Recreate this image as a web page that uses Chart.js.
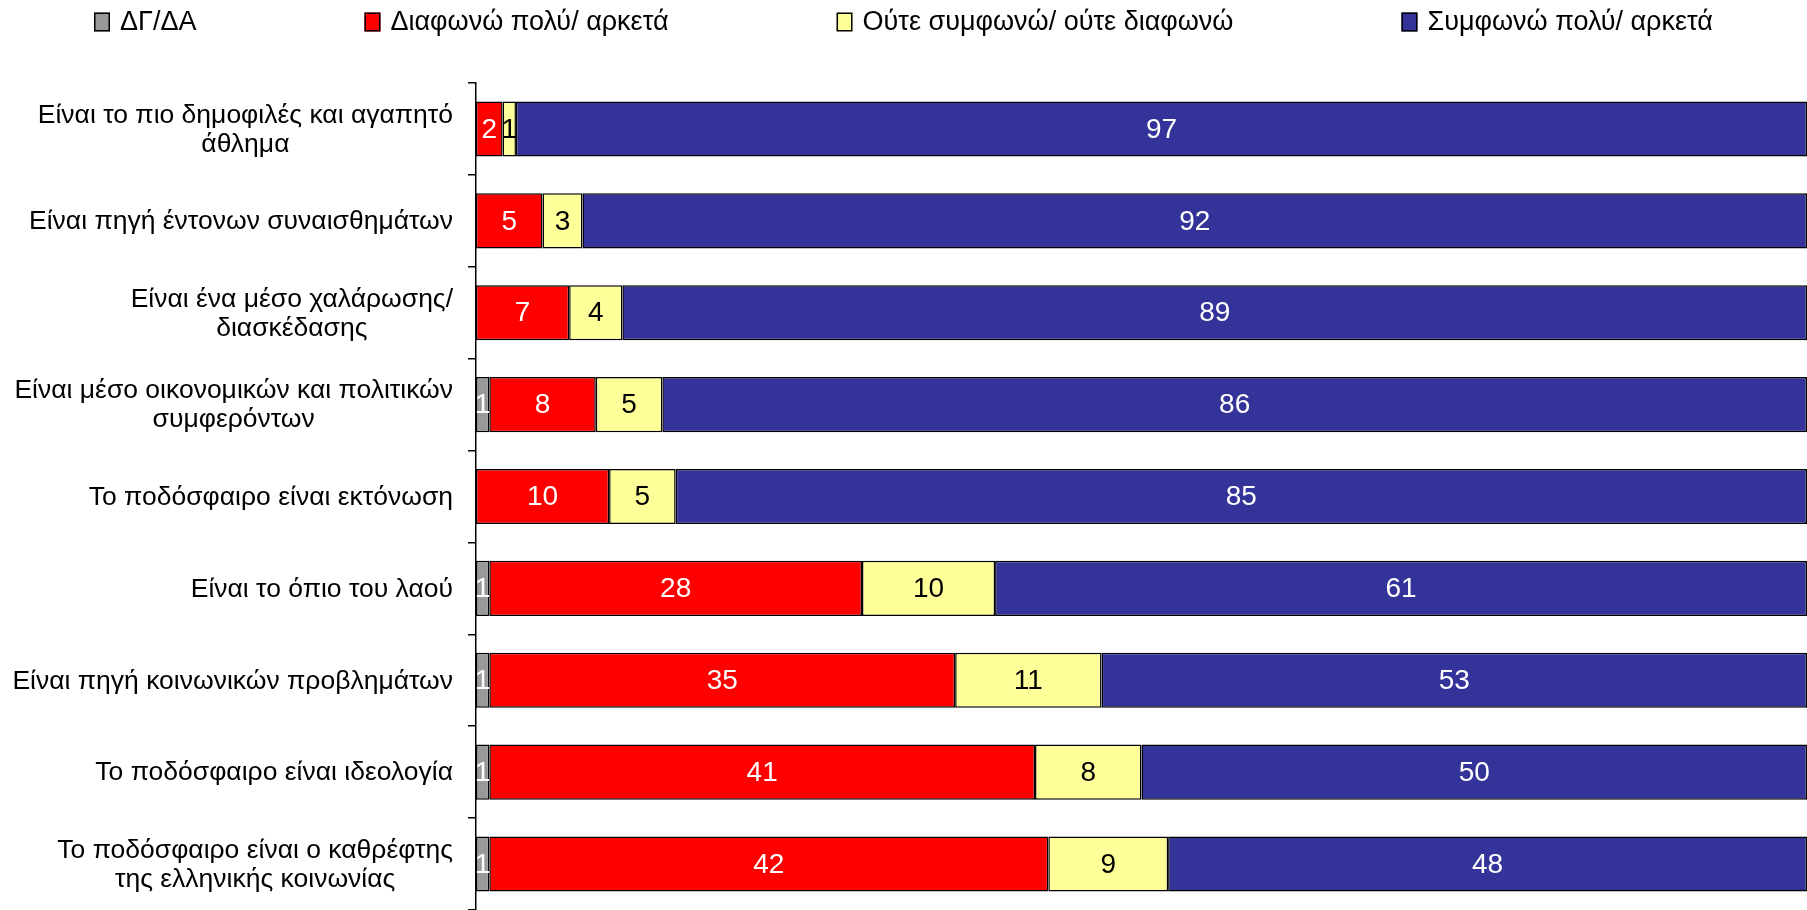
<!DOCTYPE html>
<html>
<head>
<meta charset="utf-8">
<script src="https://cdn.jsdelivr.net/npm/chart.js@4/dist/chart.umd.min.js"></script>
<style>
html, body { margin: 0; padding: 0; background: #fff; }
</style>
</head>
<body>
<canvas id="chart" width="1807" height="910"></canvas>
<script>
// categories (top to bottom), multi-line where the original wraps
const categories = [
    ['Είναι το πιο δημοφιλές και αγαπητό', 'άθλημα'],
    ['Είναι πηγή έντονων συναισθημάτων'],
    ['Είναι ένα μέσο χαλάρωσης/', 'διασκέδασης'],
    ['Είναι μέσο οικονομικών και πολιτικών', 'συμφερόντων'],
    ['Το ποδόσφαιρο είναι εκτόνωση'],
    ['Είναι το όπιο του λαού'],
    ['Είναι πηγή κοινωνικών προβλημάτων'],
    ['Το ποδόσφαιρο είναι ιδεολογία'],
    ['Το ποδόσφαιρο είναι ο καθρέφτης', 'της ελληνικής κοινωνίας']
];

const seriesNames = ['ΔΓ/ΔΑ', 'Διαφωνώ πολύ/ αρκετά', 'Ούτε συμφωνώ/ ούτε διαφωνώ', 'Συμφωνώ πολύ/ αρκετά'];
const dkna     = [0, 0, 0, 1, 0, 1, 1, 1, 1];
const disagree = [2, 5, 7, 8, 10, 28, 35, 41, 42];
const neither  = [1, 3, 4, 5, 5, 10, 11, 8, 9];
const agree    = [97, 92, 89, 86, 85, 61, 53, 50, 48];

const colors = ['#999999', '#ff0000', '#ffff99', '#333399'];
const labelColors = ['#ffffff', '#ffffff', '#000000', '#ffffff'];
const FONT = "'Liberation Sans', Arial, sans-serif";

const seriesValues = [dkna, disagree, neither, agree];

// category labels: block right aligned, lines centred (Excel style)
const categoryLabels = {
    id: 'categoryLabels',
    afterDraw(chart) {
        const ctx = chart.ctx;
        const y = chart.scales.y;
        const rightEdge = 453;
        const lineH = 29;
        ctx.save();
        ctx.font = '26.5px ' + FONT;
        ctx.fillStyle = '#000';
        ctx.textBaseline = 'middle';
        ctx.textAlign = 'center';
        categories.forEach((lines, i) => {
            const cy = y.getPixelForTick(i);
            const w = Math.max(...lines.map(l => ctx.measureText(l).width));
            const cx = rightEdge - w / 2;
            const y0 = cy - (lines.length - 1) * lineH / 2;
            lines.forEach((l, j) => ctx.fillText(l, cx, y0 + j * lineH + 1));
        });
        ctx.restore();
    }
};

// value labels in the middle of each segment
const valueLabels = {
    id: 'valueLabels',
    afterDatasetsDraw(chart) {
        const ctx = chart.ctx;
        ctx.save();
        ctx.font = '28px ' + FONT;
        ctx.textAlign = 'center';
        ctx.textBaseline = 'middle';
        chart.data.datasets.forEach((ds, di) => {
            const meta = chart.getDatasetMeta(di);
            meta.data.forEach((bar, i) => {
                const v = ds.data[i];
                if (!v) return;
                const props = bar.getProps(['x', 'y', 'base'], true);
                ctx.fillStyle = labelColors[di];
                ctx.fillText(String(v), (props.x + props.base) / 2, props.y + 1);
            });
        });
        ctx.restore();
    }
};

// legend row across the top with wide gaps, like the original
const topLegend = {
    id: 'topLegend',
    afterDraw(chart) {
        const ctx = chart.ctx;
        const boxW = 16, boxH = 19, textGap = 10, itemGap = 168, cy = 22;
        ctx.save();
        ctx.font = '27px ' + FONT;
        ctx.textBaseline = 'middle';
        ctx.textAlign = 'left';
        const widths = seriesNames.map(n => boxW + textGap + ctx.measureText(n).width);
        const total = widths.reduce((a, b) => a + b, 0) + itemGap * (widths.length - 1);
        let x = Math.round((chart.width - total) / 2);
        seriesNames.forEach((n, i) => {
            ctx.fillStyle = colors[i];
            ctx.fillRect(x, cy - boxH / 2, boxW, boxH);
            ctx.strokeStyle = '#000';
            ctx.lineWidth = 1.5;
            ctx.strokeRect(x + 0.75, cy - boxH / 2 + 0.75, boxW - 1.5, boxH - 1.5);
            ctx.fillStyle = '#000';
            ctx.fillText(n, x + boxW + textGap, cy + 1);
            x += widths[i] + itemGap;
        });
        ctx.restore();
    }
};

new Chart(document.getElementById('chart'), {
    type: 'bar',
    data: {
        labels: categories.map(c => c.join(' ')),
        datasets: seriesNames.map((name, i) => ({
            label: name,
            data: seriesValues[i].map(v => v === 0 ? null : v),
            backgroundColor: colors[i],
            borderColor: '#000',
            borderWidth: 1.5,
            borderSkipped: false,
            barPercentage: 0.6,
            categoryPercentage: 1.0
        }))
    },
    options: {
        indexAxis: 'y',
        responsive: false,
        animation: false,
        layout: { padding: { top: 83, left: 0, right: -2, bottom: -2 } },
        plugins: {
            legend: { display: false },
            tooltip: { enabled: false }
        },
        scales: {
            x: {
                stacked: true,
                min: 0,
                max: 100,
                display: false
            },
            y: {
                stacked: true,
                afterFit(scale) { scale.width = 476; },
                grid: {
                    drawOnChartArea: false,
                    drawTicks: true,
                    tickLength: 8,
                    color: '#000',
                    lineWidth: 1.5
                },
                border: { display: true, color: '#000', width: 1.5 },
                ticks: { display: false }
            }
        }
    },
    plugins: [categoryLabels, valueLabels, topLegend]
});
</script>
</body>
</html>
